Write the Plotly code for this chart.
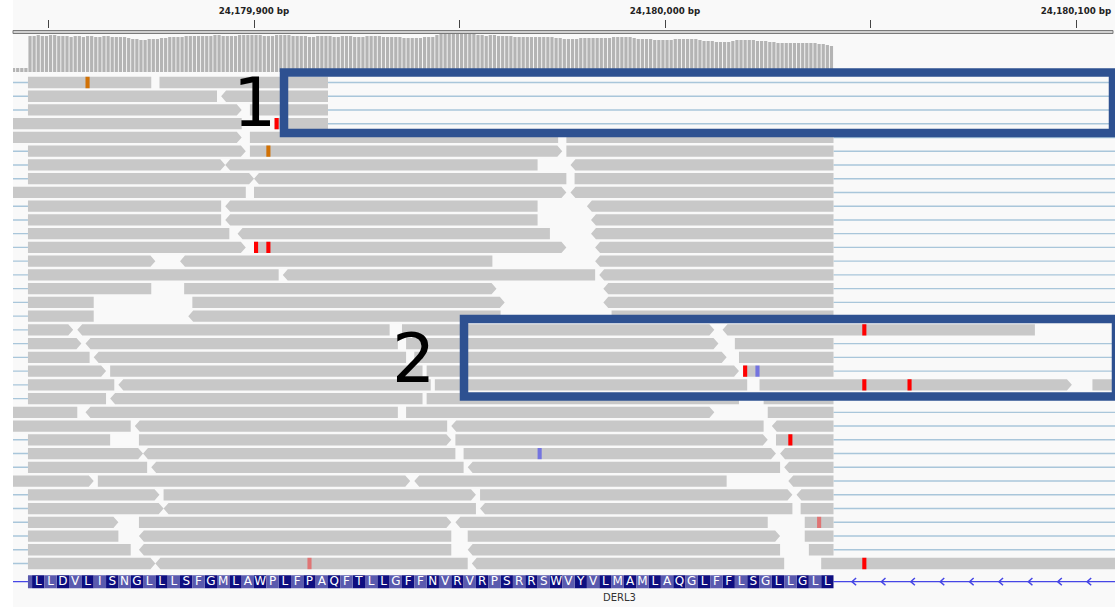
import plotly.graph_objects as go

W, H = 1115, 607

# ---------------- genomic window ----------------
VIEW_START = 24179841.36
VIEW_END = 24180109.49

ruler_ticks = [24179850, 24179900, 24179950, 24180000, 24180050, 24180100]
ruler_labels = ["", "24,179,900 bp", "", "24,180,000 bp", "", "24,180,100 bp"]

# ---------------- coverage track (depth per base) ----------------
COV_START = 24179841
coverage = [
    4, 4, 4, 4,
    36, 36, 37, 36, 36, 37, 37, 36, 36, 36, 35, 36, 36, 35, 36, 36, 35, 35, 36, 36, 35, 35, 35, 35, 34,
    33, 33, 32, 32, 33, 33, 33, 34, 34,
    35, 35, 35, 35, 36, 36, 36, 36, 36, 36, 36, 37, 37, 36, 36, 36, 36, 37,
    37, 37, 37, 37, 37, 36, 36, 36, 37, 37, 37, 37,
    36, 36, 36, 36, 35, 35, 36, 36, 36, 36,
    35, 35, 36, 36, 36, 35, 35, 35, 36, 36, 36, 36, 35, 35, 35, 35, 35,
    34, 34, 34, 34, 34, 35, 35, 35, 37, 38,
    38, 38, 38, 38, 38, 38, 38, 38, 37, 37,
    36, 37, 37, 36, 36, 36, 36, 35, 35, 35, 35, 35, 35, 35, 35, 35, 35, 34, 34,
    33, 33, 33, 33, 34, 34, 34, 34, 34, 34,
    34, 34, 35, 35, 35, 35, 35, 34, 33, 33, 33, 33,
    32, 32, 32, 32, 32, 33, 33, 33, 33, 33, 33, 32,
    31, 31, 31, 30, 30, 30, 30, 31, 32, 32,
    32, 32, 32, 31, 31, 31, 30, 30, 29, 29,
    29, 29, 29, 29, 29, 29, 29, 29, 28, 28, 27, 26,
]

# ---------------- gene track ----------------
EXON_START = 24179845
EXON_END = 24180041
GENE_NAME = "DERL3"
GENE_LABEL_POS = 24179989
amino_acids = "GLLDVLISNGLLLSFGMLAWPLFPAQFTLLGFFNVRVRPSRRSWVYVLMAMLAQGLFFLSGLLGLL"

# ---------------- alignments, one list per row ----------------
row_starts = [
    [24179845, 24179877],
    [24179845, 24179892],
    [24179845, 24179899],
    [24179822, 24179905],
    [24179821, 24179899, 24179976],
    [24179845, 24179899, 24179976],
    [24179845, 24179893, 24179977],
    [24179845, 24179900, 24179978],
    [24179822, 24179900, 24179977],
    [24179845, 24179893, 24179981],
    [24179845, 24179893, 24179982],
    [24179845, 24179896, 24179982],
    [24179845, 24179900, 24179983],
    [24179845, 24179882, 24179983],
    [24179845, 24179907, 24179984],
    [24179845, 24179883, 24179985],
    [24179845, 24179885, 24179985],
    [24179845, 24179884, 24179987],
    [24179845, 24179857, 24179936, 24180014],
    [24179845, 24179859, 24179937, 24180017],
    [24179845, 24179861, 24179939, 24180018],
    [24179845, 24179865, 24179942, 24180019],
    [24179845, 24179867, 24179944, 24180023, 24180104],
    [24179845, 24179865, 24179942, 24180024],
    [24179781, 24179859, 24179937, 24180025],
    [24179794, 24179871, 24179948, 24180026],
    [24179845, 24179872, 24179949, 24180027],
    [24179845, 24179873, 24179951, 24180028],
    [24179845, 24179875, 24179952, 24180029],
    [24179785, 24179862, 24179939, 24180030],
    [24179845, 24179878, 24179955, 24180032],
    [24179845, 24179878, 24179955, 24180033],
    [24179845, 24179872, 24179949, 24180034],
    [24179845, 24179872, 24179952, 24180034],
    [24179845, 24179872, 24179952, 24180035],
    [24179845, 24179876, 24179953, 24180038],
]
row_ends = [
    [24179875, 24179918],
    [24179891, 24179918],
    [24179897, 24179918],
    [24179897, 24179918],
    [24179897, 24179974, 24180041],
    [24179898, 24179975, 24180041],
    [24179893, 24179969, 24180041],
    [24179900, 24179976, 24180041],
    [24179898, 24179976, 24180041],
    [24179892, 24179969, 24180041],
    [24179892, 24179969, 24180041],
    [24179894, 24179972, 24180041],
    [24179898, 24179976, 24180041],
    [24179876, 24179958, 24180041],
    [24179906, 24179983, 24180041],
    [24179875, 24179959, 24180041],
    [24179861, 24179961, 24180041],
    [24179861, 24179960, 24180041],
    [24179856, 24179933, 24180012, 24180090],
    [24179858, 24179935, 24180013, 24180041],
    [24179860, 24179937, 24180015, 24180041],
    [24179864, 24179941, 24180018, 24180041],
    [24179866, 24179943, 24180020, 24180099, 24180180],
    [24179864, 24179941, 24180018, 24180041],
    [24179857, 24179935, 24180012, 24180041],
    [24179870, 24179947, 24180024, 24180041],
    [24179865, 24179948, 24180025, 24180041],
    [24179873, 24179949, 24180027, 24180041],
    [24179874, 24179951, 24180028, 24180041],
    [24179861, 24179938, 24180015, 24180041],
    [24179877, 24179954, 24180031, 24180041],
    [24179878, 24179954, 24180031, 24180041],
    [24179867, 24179948, 24180025, 24180041],
    [24179867, 24179948, 24180028, 24180041],
    [24179870, 24179948, 24180028, 24180041],
    [24179876, 24179952, 24180029, 24180114],
]
# '+' forward (pointed right), '-' reverse (pointed left), '.' no pointed end
row_strands = [
    "..", ".-", "+.", "..",
    "+..", "++.", "+--", "+-.", ".+-", ".--", ".--", ".--", "++-", "+--",
    ".--", ".+-", ".+-", ".-.",
    "+-+-", "+-+.", ".-+.", "+.+.", ".-.+.", ".-..",
    ".-+.", ".---", ".++.", "+-+-", ".---", "++--", "+++-", "+--.",
    "++-.", ".-+.", ".--.", "+--.",
]

# rows whose alignment continues through a splice junction off the exon
link_left = [0, 1, 2, 5, 6, 7, 9, 10, 11, 12, 13, 14, 15, 16, 17, 18, 19, 20, 21, 22, 23,
             26, 27, 28, 30, 31, 32, 33, 34, 35]
link_right = [0, 1, 2, 3, 4, 5, 6, 7, 8, 9, 10, 11, 12, 13, 14, 15, 16, 17, 19, 20, 21, 23,
              24, 25, 26, 27, 28, 29, 30, 31, 32, 33, 34]

# mismatched bases
mm_row = [0, 3, 5, 12, 12, 18, 21, 21, 22, 22, 26, 27, 32, 35, 35]
mm_pos = [24179859, 24179905, 24179903, 24179900, 24179903, 24180048, 24180019, 24180022,
          24180048, 24180059, 24180030, 24179969, 24180037, 24179913, 24180048]
mm_base = "GTGTTTTCTTTCTTT"
mm_qual = [1, 1, 1, 1, 1, 1, 1, 0, 1, 1, 1, 0, 0, 0, 1]

# ---------------- styling ----------------
READ_COLOR = "#c8c8c8"
LINK_COLOR = "#a9c6da"
COV_COLOR = "#b4b4b4"
BG_COLOR = "#f9f9f9"
AA_DARK = "#0e0e80"
AA_LIGHT = "#5a5aae"
INTRON_COLOR = "#4646e6"
BOX_COLOR = "#2e5191"
BASE_RGB = {"A": (0, 150, 0), "C": (0, 0, 255), "G": (209, 113, 5), "T": (255, 0, 0)}

HALF = 0.41     # half height of an alignment, in row units
ARROW = 1.2     # length of the pointed end, in bases


def px_x(px):
    return px / W


def px_y(py):
    return 1 - py / H


def read_outline(s, e, strand, r):
    top, bot = r - HALF, r + HALF
    if strand == "+":
        return [s, e - ARROW, e, e - ARROW, s, s], [top, top, r, bot, bot, top]
    if strand == "-":
        return [s, s + ARROW, e, e, s + ARROW, s], [r, top, top, bot, bot, r]
    return [s, e, e, s, s], [top, top, bot, bot, top]


fig = go.Figure()

# coverage
fig.add_trace(go.Bar(
    x=[COV_START + i + 0.5 for i in range(len(coverage))], y=coverage,
    width=0.78, marker=dict(color=COV_COLOR, line=dict(width=0)),
    xaxis="x", yaxis="y2", hoverinfo="skip", showlegend=False))

# splice connectors
lx, ly = [], []
for r in link_left:
    lx += [VIEW_START - 5, row_starts[r][0], None]
    ly += [r, r, None]
for r in link_right:
    lx += [row_ends[r][-1], VIEW_END + 5, None]
    ly += [r, r, None]
fig.add_trace(go.Scatter(x=lx, y=ly, mode="lines", line=dict(color=LINK_COLOR, width=1.4),
                         xaxis="x", yaxis="y", hoverinfo="skip", showlegend=False))

# alignments
rx, ry = [], []
for r, (starts, ends, strands) in enumerate(zip(row_starts, row_ends, row_strands)):
    for s, e, st in zip(starts, ends, strands):
        xs, ys = read_outline(s, e, st, r)
        rx += xs + [None]
        ry += ys + [None]
fig.add_trace(go.Scatter(x=rx, y=ry, mode="lines", fill="toself", fillcolor=READ_COLOR,
                         line=dict(width=0, color=READ_COLOR), xaxis="x", yaxis="y",
                         hoverinfo="skip", showlegend=False))

# mismatches grouped by colour
groups = {}
for r, p, b, q in zip(mm_row, mm_pos, mm_base, mm_qual):
    groups.setdefault((b, q), []).append((r, p))
for (b, q), items in groups.items():
    cr, cg, cb = BASE_RGB[b]
    alpha = 1.0 if q else 0.42
    col = f"rgba({cr},{cg},{cb},{alpha})"
    mx, my = [], []
    for r, p in items:
        mx += [p, p + 1, p + 1, p, p, None]
        my += [r - HALF, r - HALF, r + HALF, r + HALF, r - HALF, None]
    fig.add_trace(go.Scatter(x=mx, y=my, mode="lines", fill="toself", fillcolor=col,
                             line=dict(width=0, color=col), xaxis="x", yaxis="y",
                             hoverinfo="skip", showlegend=False))

# gene track: intron lines and strand chevrons
ix = [VIEW_START - 5, EXON_START, None, EXON_END, VIEW_END + 5]
iy = [0, 0, None, 0, 0]
fig.add_trace(go.Scatter(x=ix, y=iy, mode="lines", line=dict(color=INTRON_COLOR, width=1.4),
                         xaxis="x", yaxis="y3", hoverinfo="skip", showlegend=False))
cx, cy = [], []
c = EXON_END + 4.5
while c < VIEW_END - 2:
    cx += [c + 1.0, c, c + 1.0, None]
    cy += [-0.28, 0, 0.28, None]
    c += 7.15
fig.add_trace(go.Scatter(x=cx, y=cy, mode="lines", line=dict(color=INTRON_COLOR, width=1.5),
                         xaxis="x", yaxis="y3", hoverinfo="skip", showlegend=False))

# gene track: codon blocks and amino acid letters
n_aa = len(amino_acids)
blocks = {True: ([], []), False: ([], [])}
tx, tt = [], []
for i, aa in enumerate(amino_acids):
    c0 = EXON_END - 3 * (n_aa - i)
    c1 = c0 + 3
    s = max(c0, EXON_START)
    bx, by = blocks[i % 2 == 1]
    bx += [s, c1, c1, s, s, None]
    by += [-0.5, -0.5, 0.5, 0.5, -0.5, None]
    if c0 >= EXON_START:
        tx.append(c0 + 1.5)
        tt.append(aa)
for dark, (bx, by) in blocks.items():
    col = AA_DARK if dark else AA_LIGHT
    fig.add_trace(go.Scatter(x=bx, y=by, mode="lines", fill="toself", fillcolor=col,
                             line=dict(width=0, color=col), xaxis="x", yaxis="y3",
                             hoverinfo="skip", showlegend=False))
fig.add_trace(go.Scatter(x=tx, y=[0.05] * len(tx), mode="text", text=tt,
                         textfont=dict(family="DejaVu Sans", size=12, color="white"),
                         xaxis="x", yaxis="y3", hoverinfo="skip", showlegend=False))

# carrier trace for the ruler axis
fig.add_trace(go.Scatter(x=[ruler_ticks[0]], y=[0], mode="markers", marker=dict(opacity=0),
                         xaxis="x2", yaxis="y2", hoverinfo="skip", showlegend=False))

# ---------------- layout ----------------
X_DOMAIN = [px_x(13), 1.0]
READS_TOP, READS_BOTTOM = 75.63, 570.37
COV_TOP, COV_BOTTOM = 32.0, 72.0

shapes = [
    dict(type="rect", xref="paper", yref="paper", x0=px_x(13), x1=1, y0=0, y1=1,
         fillcolor=BG_COLOR, line=dict(width=0), layer="below"),
    dict(type="rect", xref="paper", yref="paper", x0=px_x(13), x1=px_x(1113),
         y0=px_y(30.5), y1=px_y(33.5), fillcolor="#d0d0d0",
         line=dict(color="#7a7a7a", width=1), layer="above"),
    dict(type="rect", xref="paper", yref="paper", x0=px_x(284), x1=px_x(1113),
         y0=px_y(72.5), y1=px_y(133), line=dict(color=BOX_COLOR, width=8.5),
         fillcolor="rgba(0,0,0,0)", layer="above"),
    dict(type="rect", xref="paper", yref="paper", x0=px_x(464), x1=px_x(1116),
         y0=px_y(319), y1=px_y(396.5), line=dict(color=BOX_COLOR, width=8.5),
         fillcolor="rgba(0,0,0,0)", layer="above"),
]

annotations = [
    dict(text="1", x=px_x(254), y=px_y(103), xref="paper", yref="paper", showarrow=False,
         font=dict(family="DejaVu Sans", size=68, color="black"), xanchor="center", yanchor="middle"),
    dict(text="2", x=px_x(413), y=px_y(358), xref="paper", yref="paper", showarrow=False,
         font=dict(family="DejaVu Sans", size=68, color="black"), xanchor="center", yanchor="middle"),
    dict(text=GENE_NAME, x=GENE_LABEL_POS, y=1.23, xref="x", yref="y3", showarrow=False,
         font=dict(family="DejaVu Sans", size=10, color="#333333"), xanchor="center", yanchor="middle"),
]

fig.update_layout(
    width=W, height=H, margin=dict(l=0, r=0, t=0, b=0, pad=0),
    paper_bgcolor="white", plot_bgcolor="rgba(0,0,0,0)",
    showlegend=False, hovermode=False,
    xaxis=dict(domain=X_DOMAIN, range=[VIEW_START, VIEW_END], visible=False, fixedrange=True),
    xaxis2=dict(overlaying="x", matches="x", anchor="free", position=px_y(28), side="top",
                tickmode="array", tickvals=ruler_ticks, ticktext=ruler_labels,
                ticks="outside", ticklen=8, tickwidth=1, tickcolor="#444444",
                ticklabelstandoff=3,
                tickfont=dict(family="DejaVu Sans", size=8.7, color="#222222", weight="bold"),
                showgrid=False, showline=False, zeroline=False),
    yaxis=dict(domain=[px_y(READS_BOTTOM), px_y(READS_TOP)], range=[35.5, -0.5],
               visible=False, fixedrange=True),
    yaxis2=dict(domain=[px_y(COV_BOTTOM), px_y(COV_TOP)], range=[0, 40], anchor="x",
                visible=False, fixedrange=True),
    yaxis3=dict(domain=[0, px_y(READS_BOTTOM)], range=[1.95, -0.868], anchor="x",
                visible=False, fixedrange=True),
    shapes=shapes, annotations=annotations,
)

fig.write_html("out.html")
